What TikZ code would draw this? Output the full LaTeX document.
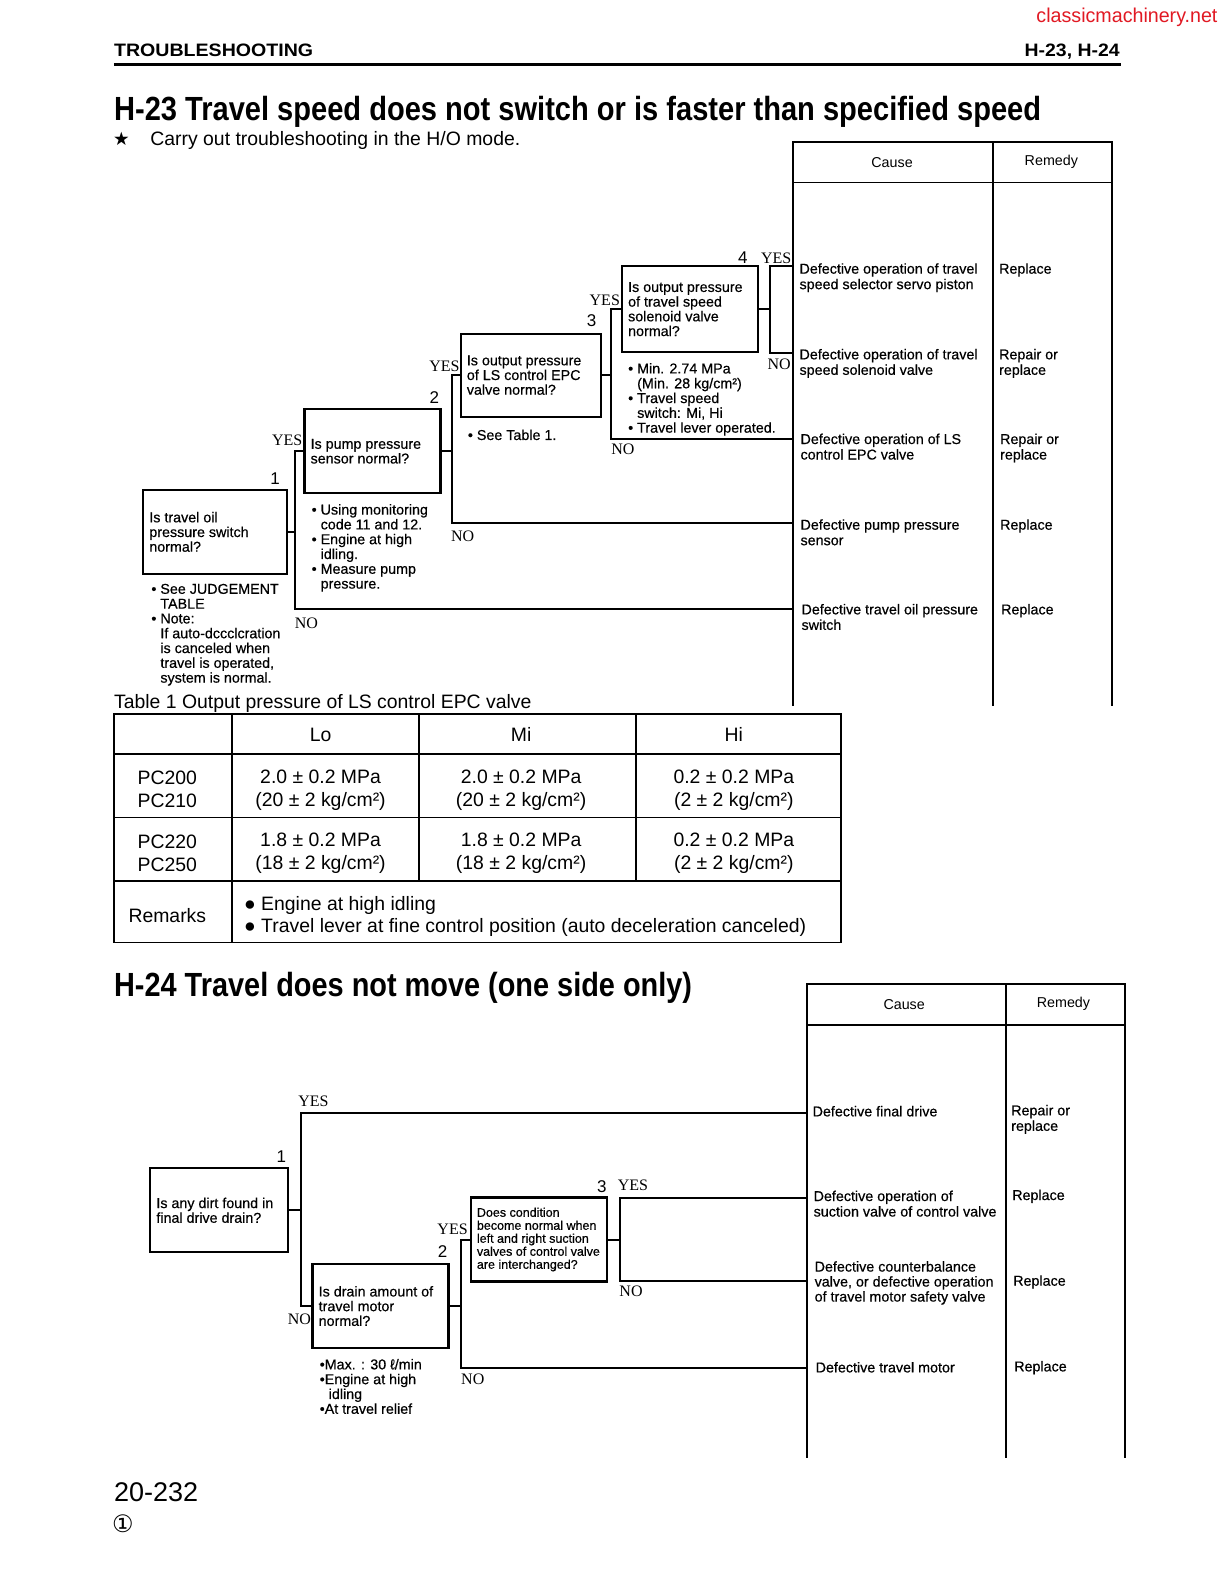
\documentclass[tikz,border=0pt]{standalone}
\usepackage{fontspec}
\usepackage{graphicx}
\setmainfont{Liberation Sans}
\newfontfamily\serifyn{Liberation Serif}
\newfontfamily\djv{DejaVu Sans}
\newfontfamily\medf[FakeBold=0.45]{Liberation Sans}
\definecolor{sitered}{RGB}{225,25,35}
\newcommand\qtxt{\medf\fontsize{14.3}{14.7}\selectfont}
\newcommand\smqtxt{\medf\fontsize{12.5}{13}\selectfont}
\newcommand\ctxt{\medf\fontsize{14.3}{15.5}\selectfont}
\newcommand\ntxt{\medf\fontsize{14.3}{14.8}\selectfont}
\newcommand\htxt{\fontsize{14.3}{14.7}\selectfont}
\newcommand\ttxt{\fontsize{19.4}{23}\selectfont}
\newcommand\bind{\hspace*{0.63em}}
\newcommand\fitw[2]{\resizebox{#1}{\height}{#2}}
\begin{document}
\begin{tikzpicture}[x=1.008pt,y=-1.008pt,
  qbox/.style={draw, line width=2.3pt, outer sep=0pt, inner sep=0pt, anchor=north west},
  qtext/.style={anchor=west, inner sep=0pt, align=left, font=\qtxt},
  conn/.style={line width=2pt},
  tline/.style={line width=1.9pt},
  yn/.style={font=\serifyn\fontsize{16}{16}\selectfont, inner sep=0pt},
  num/.style={font=\fontsize{17}{17}\selectfont, inner sep=0pt},
  note/.style={anchor=north west, inner sep=0pt, align=left, font=\ntxt},
  cause/.style={anchor=north west, inner sep=0pt, align=left, font=\ctxt},
  cell/.style={inner sep=0pt, align=center, font=\ttxt},
  plain/.style={inner sep=0pt}]
\fill[white] (0,0) rectangle (1218.25,1569.44);
\useasboundingbox (0,0) rectangle (1218.25,1569.44);

% ---------- header ----------
\node[plain, anchor=base east, text=sitered] (site) at (1208,22) {\fitw{181pt}{\fontsize{20}{20}\selectfont classicmachinery.net}};
\node[plain, anchor=base west] (hdl) at (113,56) {\fitw{199pt}{\fontsize{18}{18}\selectfont\bfseries TROUBLESHOOTING}};
\node[plain, anchor=base east] (hdr) at (1111,56) {\fitw{95pt}{\fontsize{18}{18}\selectfont\bfseries H-23, H-24}};
\draw[line width=3pt] (113,63.5) -- (1112,63.5);

% ---------- H-23 title ----------
\node[plain, anchor=base west] (t23) at (113,120) {\fitw{927pt}{\fontsize{33.5}{36}\selectfont\bfseries H-23 Travel speed does not switch or is faster than specified speed}};
\node[plain, anchor=base west] (star) at (112,144) {\djv\fontsize{18.5}{18.5}\selectfont ★};
\node[plain, anchor=base west] (carry) at (149,144) {\fontsize{19.4}{20}\selectfont Carry out troubleshooting in the H/O mode.};

% ---------- H-23 cause / remedy table ----------
\draw[tline] (787,700) -- (787,141) -- (1103,141) -- (1103,700);
\draw[tline] (787,181) -- (1103,181);
\draw[tline] (985,141) -- (985,700);
\node[plain, font=\htxt] (hc23) at (885,161) {Cause};
\node[plain, font=\htxt] (hr23) at (1043,161) {Remedy};

\coordinate (p1) at (787,264);
\coordinate (p2) at (787,350);
\coordinate (p3) at (787,436);
\coordinate (p4) at (787,519);
\coordinate (p5) at (787,604);

\node[cause] (c1) at (793,261) {Defective operation of travel\\speed selector servo piston};
\node[cause] (c2) at (793,346) {Defective operation of travel\\speed solenoid valve};
\node[cause] (c3) at (794,430) {Defective operation of LS\\control EPC valve};
\node[cause] (c4) at (794,515) {Defective pump pressure\\sensor};
\node[cause] (c5) at (795,599) {Defective travel oil pressure\\switch};
\node[cause] (r1) at (991,261) {Replace};
\node[cause] (r2) at (991,346) {Repair or\\replace};
\node[cause] (r3) at (992,430) {Repair or\\replace};
\node[cause] (r4) at (992,515) {Replace};
\node[cause] (r5) at (993,599) {Replace};

% ---------- H-23 flow boxes ----------
\node[qbox, minimum width=144pt, minimum height=84pt] (q1) at (142,486) {};
\node[qtext] (q1t) at ([xshift=6pt]q1.west) {Is travel oil\\pressure switch\\normal?};
\node[qbox, minimum width=136pt, minimum height=84pt] (q2) at (302,406) {};
\node[qtext] (q2t) at ([xshift=6pt]q2.west) {Is pump pressure\\sensor normal?};
\node[qbox, minimum width=140pt, minimum height=83pt] (q3) at (457,331) {};
\node[qtext] (q3t) at ([xshift=6pt]q3.west) {Is output pressure\\of LS control EPC\\valve normal?};
\node[qbox, minimum width=136pt, minimum height=86pt] (q4) at (617,264) {};
\node[qtext] (q4t) at ([xshift=6pt]q4.west) {Is output pressure\\of travel speed\\solenoid valve\\normal?};

\coordinate (fx1) at (293,0);
\coordinate (fx2) at (448,0);
\coordinate (fx3) at (606,0);
\coordinate (fx4) at (764,0);

\draw[conn] (q1.east) -- (q1.east -| fx1);
\draw[conn] (q2.west) -- (q2.west -| fx1) |- (p5);
\draw[conn] (q2.east) -- (q2.east -| fx2);
\draw[conn] (q3.west) -- (q3.west -| fx2) |- (p4);
\draw[conn] (q3.east) -- (q3.east -| fx3);
\draw[conn] (q4.west) -- (q4.west -| fx3) |- (p3);
\draw[conn] (q4.east) -- (q4.east -| fx4);
\draw[conn] (p1) -- (p1 -| fx4) |- (p2);

\node[num] (n1) at (273,475) {1};
\node[yn] (y1) at (285,437) {YES};
\node[yn] (no1) at (304,618) {NO};
\node[num] (n2) at (431,394) {2};
\node[yn] (y2) at (441,363) {YES};
\node[yn] (no2) at (459,532) {NO};
\node[num] (n3) at (587,318) {3};
\node[yn] (y3) at (600,298) {YES};
\node[yn] (no3) at (618,446) {NO};
\node[num] (n4) at (737,256) {4};
\node[yn] (y4) at (770,256) {YES};
\node[yn] (no4) at (773,361) {NO};

\node[note] (nt1) at (150,579) {• See JUDGEMENT\\\bind TABLE\\• Note:\\\bind If auto-dccclcration\\\bind is canceled when\\\bind travel is operated,\\\bind system is normal.};
\node[note] (nt2) at (309,500) {• Using monitoring\\\bind code 11 and 12.\\• Engine at high\\\bind idling.\\• Measure pump\\\bind pressure.};
\node[note] (nt3) at (464,426) {• See Table 1.};
\node[note] (nt4) at (623,360) {• Min. 2.74 MPa\\\bind (Min. 28 kg/cm²)\\• Travel speed\\\bind switch: Mi, Hi\\• Travel lever operated.};

% ---------- Table 1 ----------
\node[plain, anchor=base west] (tcap) at (113,703) {\ttxt Table 1 Output pressure of LS control EPC valve};
\draw[tline] (113,708) rectangle (834,935);
\draw[tline] (113,748) -- (834,748);
\draw[tline] (113,811) -- (834,811);
\draw[tline] (113,874) -- (834,874);
\draw[tline] (230,708) -- (230,935);
\draw[tline] (416,708) -- (416,874);
\draw[tline] (631,708) -- (631,874);
\node[cell] (tlo) at (318,729) {Lo};
\node[cell] (tmi) at (517,729) {Mi};
\node[cell] (thi) at (728,729) {Hi};
\node[cell] (tpa) at (166,783.5) {PC200\\PC210};
\node[cell] (ta1) at (318,783.5) {2.0 ± 0.2 MPa\\(20 ± 2 kg/cm²)};
\node[cell] (ta2) at (517,783.5) {2.0 ± 0.2 MPa\\(20 ± 2 kg/cm²)};
\node[cell] (ta3) at (728,783.5) {0.2 ± 0.2 MPa\\(2 ± 2 kg/cm²)};
\node[cell] (tpb) at (166,846.5) {PC220\\PC250};
\node[cell] (tb1) at (318,846.5) {1.8 ± 0.2 MPa\\(18 ± 2 kg/cm²)};
\node[cell] (tb2) at (517,846.5) {1.8 ± 0.2 MPa\\(18 ± 2 kg/cm²)};
\node[cell] (tb3) at (728,846.5) {0.2 ± 0.2 MPa\\(2 ± 2 kg/cm²)};
\node[cell] (trm) at (166,908) {Remarks};
\node[plain, anchor=north west, align=left, font=\fontsize{19.4}{22}\selectfont] (trt) at (242,889) {● Engine at high idling\\● Travel lever at fine control position (auto deceleration canceled)};

% ---------- H-24 title ----------
\node[plain, anchor=base west] (t24) at (113,989) {\fitw{578pt}{\fontsize{33.5}{36}\selectfont\bfseries H-24 Travel does not move (one side only)}};

% ---------- H-24 cause / remedy table ----------
\draw[tline] (801,1446) -- (801,976) -- (1116,976) -- (1116,1446);
\draw[tline] (801,1017) -- (1116,1017);
\draw[tline] (998,976) -- (998,1446);
\node[plain, font=\htxt] (hc24) at (897,997) {Cause};
\node[plain, font=\htxt] (hr24) at (1055,996) {Remedy};

\coordinate (b1) at (801,1104);
\coordinate (b2) at (801,1188);
\coordinate (b3) at (801,1271);
\coordinate (b4) at (801,1357);

\node[cause] (d1) at (806,1097) {Defective final drive};
\node[cause] (d2) at (807,1181) {Defective operation of\\suction valve of control valve};
\node[cause, font=\medf\fontsize{14.3}{15}\selectfont] (d3) at (808,1251) {Defective counterbalance\\valve, or defective operation\\of travel motor safety valve};
\node[cause] (d4) at (809,1351) {Defective travel motor};
\node[cause] (e1) at (1003,1096) {Repair or\\replace};
\node[cause] (e2) at (1004,1180) {Replace};
\node[cause] (e3) at (1005,1265) {Replace};
\node[cause] (e4) at (1006,1350) {Replace};

% ---------- H-24 flow boxes ----------
\node[qbox, minimum width=138pt, minimum height=84pt] (s1) at (149,1159) {};
\node[qtext] (s1t) at ([xshift=6pt]s1.west) {Is any dirt found in\\final drive drain?};
\node[qbox, minimum width=136pt, minimum height=84pt] (s2) at (310,1254) {};
\node[qtext] (s2t) at ([xshift=6pt]s2.west) {Is drain amount of\\travel motor\\normal?};
\node[qbox, minimum width=136pt, minimum height=84pt] (s3) at (467,1188) {};
\node[qtext, font=\smqtxt] (s3t) at ([xshift=6pt]s3.west) {Does condition\\become normal when\\left and right suction\\valves of control valve\\are interchanged?};

\coordinate (gx1) at (299,0);
\coordinate (gx2) at (457,0);
\coordinate (gx3) at (615,0);

\draw[conn] (s1.east) -- (s1.east -| gx1);
\draw[conn] (b1) -- (b1 -| gx1) |- (s2.west);
\draw[conn] (s2.east) -- (s2.east -| gx2);
\draw[conn] (s3.west) -- (s3.west -| gx2) |- (b4);
\draw[conn] (s3.east) -- (s3.east -| gx3);
\draw[conn] (b2) -- (b2 -| gx3) |- (b3);

\node[yn] (y1b) at (311,1093) {YES};
\node[num] (n1b) at (279,1147) {1};
\node[yn] (no1b) at (297,1309) {NO};
\node[yn] (y2b) at (449,1220) {YES};
\node[num] (n2b) at (439,1242) {2};
\node[yn] (no2b) at (469,1368) {NO};
\node[num] (n3b) at (597,1177) {3};
\node[yn] (y3b) at (628,1176) {YES};
\node[yn] (no3b) at (626,1281) {NO};

\node[note] (nt5) at (317,1348) {•Max. : 30 ℓ/min\\•Engine at high\\\bind idling\\•At travel relief};

% ---------- footer ----------
\node[plain, anchor=base west] (pg) at (113,1490) {\fontsize{27}{27}\selectfont 20-232};
\node[plain] (rev) at (122,1512) {\djv\fontsize{24}{24}\selectfont ①};
\end{tikzpicture}
\end{document}
